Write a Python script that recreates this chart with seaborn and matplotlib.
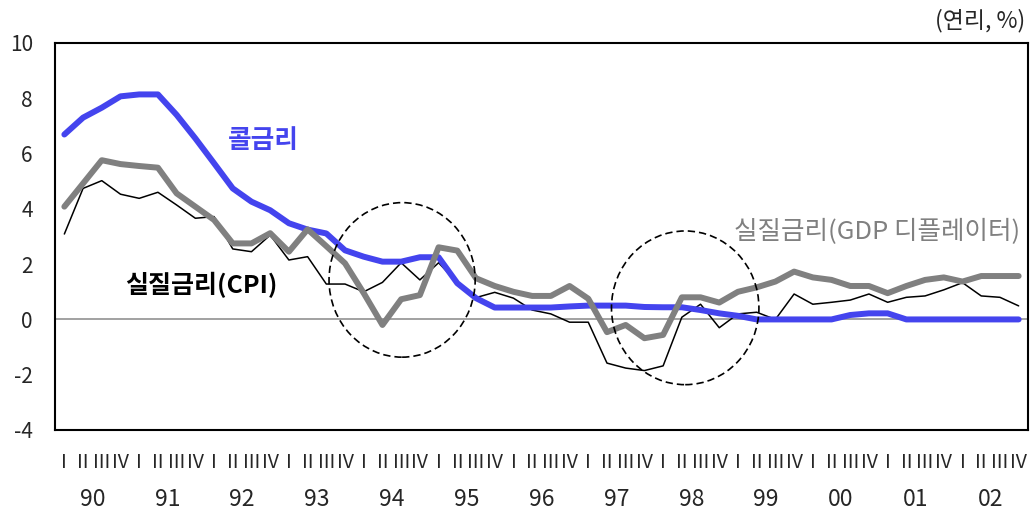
import numpy as np
import pandas as pd
import matplotlib
matplotlib.use("Agg")
import matplotlib.pyplot as plt
from matplotlib.patches import Ellipse
import seaborn as sns

# Quarterly series, 1990 Q1 - 2002 Q4 (annual %, 연리)
years = ["90", "91", "92", "93", "94", "95", "96", "97", "98", "99", "00", "01", "02"]
quarters = ["I", "II", "III", "IV"]

call_rate = [6.69, 7.30, 7.66, 8.07, 8.14, 8.14, 7.40, 6.55, 5.65, 4.74,
             4.26, 3.95, 3.48, 3.25, 3.11, 2.50, 2.27, 2.09, 2.09, 2.25,
             2.25, 1.31, 0.77, 0.43, 0.43, 0.43, 0.43, 0.47, 0.50, 0.50,
             0.50, 0.45, 0.44, 0.44, 0.34, 0.22, 0.13, 0.00, 0.00, 0.00,
             0.00, 0.00, 0.16, 0.22, 0.22, 0.00, 0.00, 0.00, 0.00, 0.00,
             0.00, 0.00]

real_gdp = [4.08, 4.92, 5.76, 5.62, 5.55, 5.49, 4.56, 4.08, 3.60, 2.75,
            2.75, 3.12, 2.45, 3.26, 2.65, 2.03, 0.95, -0.20, 0.73, 0.88,
            2.61, 2.49, 1.49, 1.21, 1.00, 0.85, 0.85, 1.21, 0.75, -0.46,
            -0.20, -0.68, -0.56, 0.80, 0.80, 0.61, 1.00, 1.16, 1.37, 1.73,
            1.52, 1.43, 1.21, 1.21, 0.95, 1.21, 1.43, 1.52, 1.37, 1.57,
            1.57, 1.57]

real_cpi = [3.09, 4.74, 5.02, 4.53, 4.38, 4.60, 4.14, 3.66, 3.72, 2.55,
            2.45, 3.05, 2.15, 2.27, 1.28, 1.28, 1.00, 1.34, 2.05, 1.43,
            2.05, 1.33, 0.79, 0.98, 0.77, 0.34, 0.20, -0.10, -0.10, -1.58,
            -1.76, -1.85, -1.68, 0.08, 0.55, -0.30, 0.20, 0.26, 0.00, 0.92,
            0.55, 0.62, 0.70, 0.92, 0.62, 0.80, 0.85, 1.07, 1.33, 0.85,
            0.80, 0.49]

n = len(call_rate)
df = pd.DataFrame({
    "t": np.arange(n),
    "콜금리": call_rate,
    "실질금리(GDP 디플레이터)": real_gdp,
    "실질금리(CPI)": real_cpi,
})

sns.set_theme(style="white")
plt.rcParams["font.family"] = ["Noto Sans CJK KR", "DejaVu Sans"]
plt.rcParams["axes.unicode_minus"] = False

BLUE = "#4444EE"
GRAY = "#808080"

fig = plt.figure(figsize=(10.30, 5.13), dpi=100)
ax = fig.add_axes([55 / 1030, 1 - 430 / 513, (1028 - 55) / 1030, (430 - 43) / 513])

ax.axhline(0, color="#9a9a9a", lw=1.3, zorder=1)

sns.lineplot(data=df, x="t", y="실질금리(CPI)", ax=ax, color="black", lw=1.1, zorder=2)
sns.lineplot(data=df, x="t", y="콜금리", ax=ax, color=BLUE, lw=4.3, zorder=3,
             solid_capstyle="round")
sns.lineplot(data=df, x="t", y="실질금리(GDP 디플레이터)", ax=ax, color=GRAY, lw=4.3,
             zorder=4, solid_capstyle="round")

# dashed circles marking the two episodes
for (cx, cy, w, h) in [(18.05, 1.43, 7.81, 5.59), (33.18, 0.42, 7.88, 5.56)]:
    ax.add_patch(Ellipse((cx, cy), w, h, fill=False, ec="black", lw=1.2,
                         ls=(0, (4.4, 2.4)), zorder=5))

ax.set_xlim(-0.5, n - 0.5)
ax.set_ylim(-4, 10)
ax.set_yticks(np.arange(-4, 11, 2))
ax.set_ylabel("")
ax.set_xlabel("")

# quarter labels as major ticks, year labels as minor ticks
ax.set_xticks(np.arange(n))
ax.set_xticklabels(quarters * len(years), fontsize=14)
ax.set_xticks(np.arange(len(years)) * 4 + 1.5, minor=True)
ax.set_xticklabels(years, minor=True, fontsize=16.5)
ax.tick_params(axis="x", which="major", length=0, pad=15.5)
ax.tick_params(axis="x", which="minor", length=0, pad=42)
ax.tick_params(axis="y", direction="in", length=4, width=1.2, labelsize=15, pad=16,
               color="black")

for s in ax.spines.values():
    s.set_visible(True)
    s.set_color("black")
    s.set_linewidth(1.5)

ax.text(8.75, 6.48, "콜금리", color=BLUE, fontsize=18.5, fontweight="bold",
        ha="left", va="center")
ax.text(3.25, 1.25, "실질금리(CPI)", color="black", fontsize=18, fontweight="bold",
        ha="left", va="center")
ax.text(35.8, 3.16, "실질금리(GDP 디플레이터)", color=GRAY, fontsize=18.4,
        ha="left", va="center")

fig.text(1025 / 1030, 1 - 21 / 513, "(연리, %)", fontsize=16.5, ha="right", va="center")

fig.savefig("out.png", dpi=100)
